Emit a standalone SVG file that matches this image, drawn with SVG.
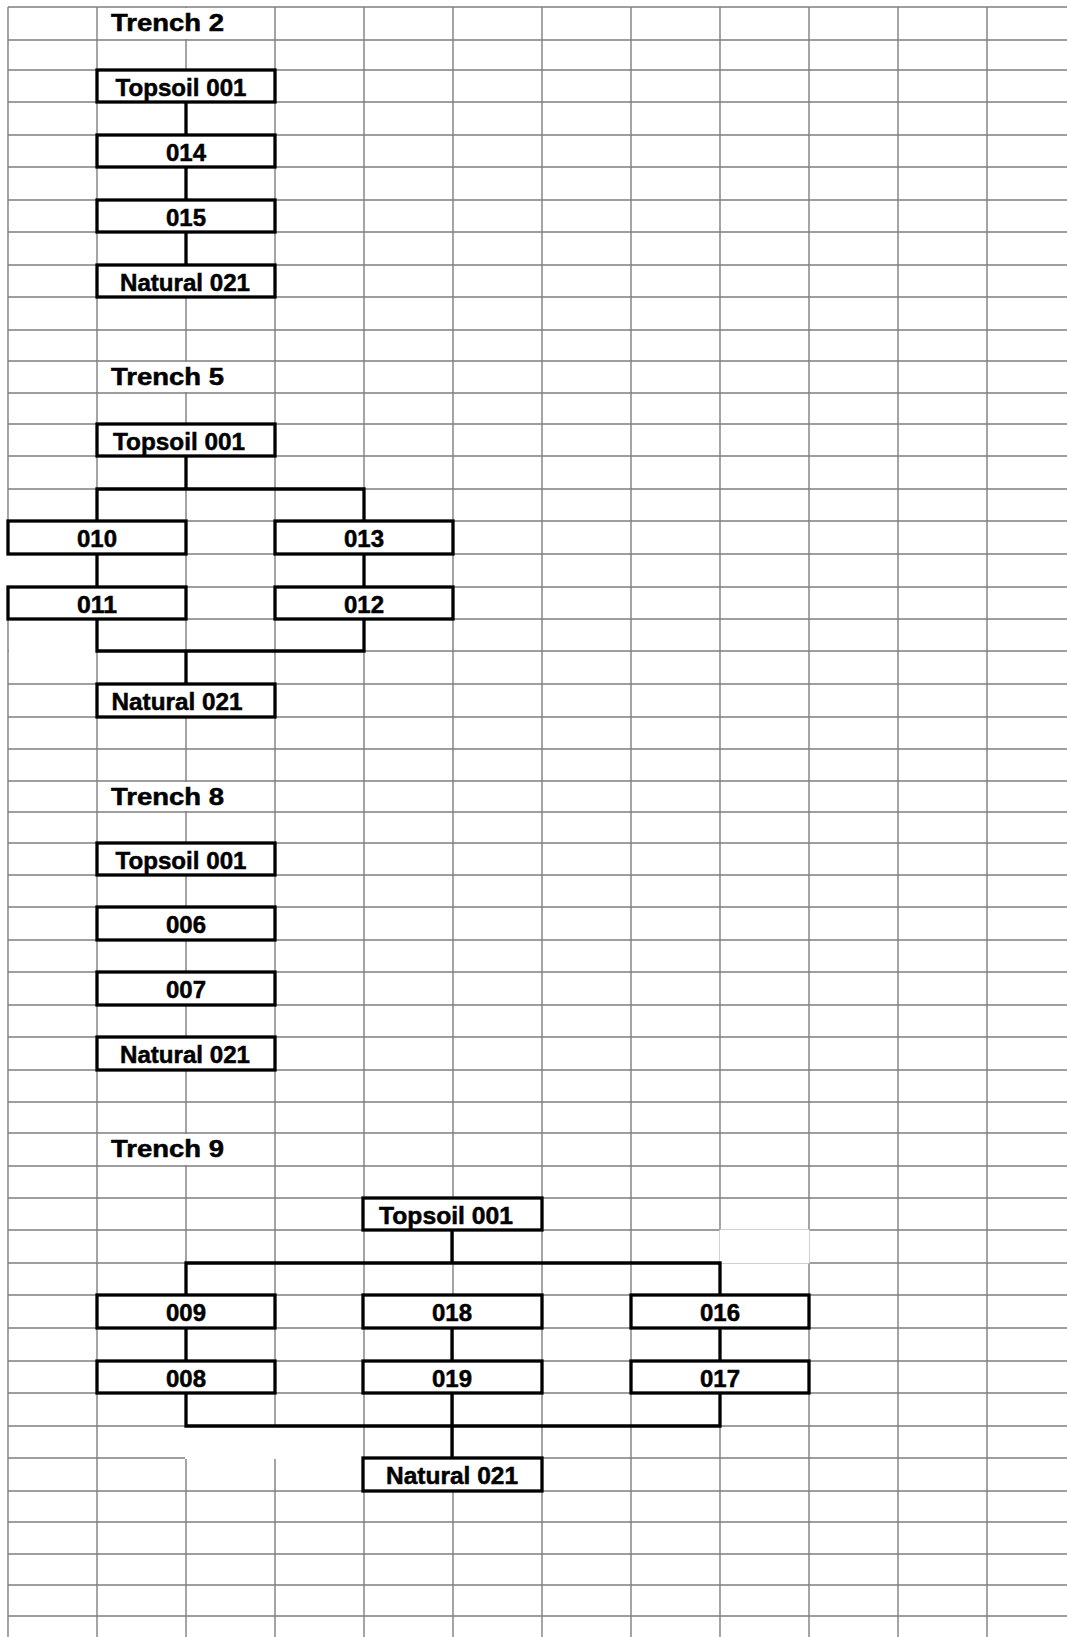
<svg xmlns="http://www.w3.org/2000/svg" width="1067" height="1637" viewBox="0 0 1067 1637">
<style>
.grid{stroke:#7f7f7f;stroke-width:1.4;fill:none}
.cover{fill:#ffffff;stroke:none}
.box{fill:#ffffff;stroke:#000000;stroke-width:3.3}
.con{fill:none;stroke:#000000;stroke-width:3.3}
.t{font-family:"Liberation Sans",Arial,sans-serif;font-weight:bold;fill:#000000;stroke:#000000;stroke-width:0.5}
.title{font-size:24px}
.lbl{font-size:24px;text-anchor:middle}
</style>
<rect x="0" y="0" width="1067" height="1637" fill="#ffffff"/>
<g id="grid">
<path class="grid" d="M8,7H1067M8,40H1067M8,70H1067M8,102H1067M8,135H1067M8,167H1067M8,200H1067M8,232H1067M8,265H1067M8,297H1067M8,330H1067M8,361H1067M8,393H1067M8,424H1067M8,456H1067M8,489H1067M8,521H1067M8,554H1067M8,587H1067M8,619H1067M8,651H1067M8,684H1067M8,717H1067M8,749H1067M8,781H1067M8,812H1067M8,843H1067M8,875H1067M8,907H1067M8,940H1067M8,972H1067M8,1005H1067M8,1037H1067M8,1070H1067M8,1102H1067M8,1133H1067M8,1166H1067M8,1198H1067M8,1230H1067M8,1263H1067M8,1295H1067M8,1328H1067M8,1361H1067M8,1393H1067M8,1426H1067M8,1458H1067M8,1491H1067M8,1522H1067M8,1554H1067M8,1585H1067M8,1616H1067"/>
<path class="grid" d="M8,7V1637M97,7V1637M186,7V1637M275,7V1637M364,7V1637M453,7V1637M542,7V1637M631,7V1637M720,7V1637M809,7V1637M898,7V1637M987,7V1637"/>
<rect class="cover" x="184" y="8" width="4" height="31"/>
<rect class="cover" x="184" y="362" width="4" height="30"/>
<rect class="cover" x="184" y="782" width="4" height="29"/>
<rect class="cover" x="184" y="1134" width="4" height="31"/>
<rect class="cover" x="6" y="555" width="4" height="31"/>
<rect class="cover" x="9" y="649" width="87" height="4"/>
<rect class="cover" x="719.5" y="1229.5" width="90" height="34"/>
<rect class="cover" x="185" y="1427" width="177" height="32"/>
</g>
<g id="titles">
<text class="t title" x="111" y="31" textLength="113" lengthAdjust="spacingAndGlyphs">Trench 2</text>
<text class="t title" x="111" y="385" textLength="113" lengthAdjust="spacingAndGlyphs">Trench 5</text>
<text class="t title" x="111" y="805" textLength="113" lengthAdjust="spacingAndGlyphs">Trench 8</text>
<text class="t title" x="111" y="1157" textLength="113" lengthAdjust="spacingAndGlyphs">Trench 9</text>
</g>
<g id="connectors">
<path class="con" d="M186,102V135M186,167V200M186,232V265"/>
<path class="con" d="M186,456V489M97,521V489H364V521M97,554V587M364,554V587M97,619V651H364V619M186,651V684"/>
<path class="con" d="M452,1230V1263M186,1295V1263H720V1295M186,1328V1361M452,1328V1361M720,1328V1361M186,1393V1426H720V1393M452,1393V1458"/>
</g>
<g id="t2-topsoil"><rect class="box" x="97" y="70" width="178" height="32"/><text class="t lbl" x="181" y="96" textLength="131" lengthAdjust="spacingAndGlyphs">Topsoil 001</text></g>
<g id="t2-014"><rect class="box" x="97" y="135" width="178" height="32"/><text class="t lbl" x="186" y="161" textLength="40" lengthAdjust="spacingAndGlyphs">014</text></g>
<g id="t2-015"><rect class="box" x="97" y="200" width="178" height="32"/><text class="t lbl" x="186" y="226" textLength="40" lengthAdjust="spacingAndGlyphs">015</text></g>
<g id="t2-natural"><rect class="box" x="97" y="265" width="178" height="32"/><text class="t lbl" x="185" y="291" textLength="130" lengthAdjust="spacingAndGlyphs">Natural 021</text></g>

<g id="t5-topsoil"><rect class="box" x="97" y="424" width="178" height="32"/><text class="t lbl" x="179" y="450" textLength="132" lengthAdjust="spacingAndGlyphs">Topsoil 001</text></g>
<g id="t5-010"><rect class="box" x="8" y="521" width="178" height="33"/><text class="t lbl" x="97" y="547" textLength="40" lengthAdjust="spacingAndGlyphs">010</text></g>
<g id="t5-013"><rect class="box" x="275" y="521" width="178" height="33"/><text class="t lbl" x="364" y="547" textLength="40" lengthAdjust="spacingAndGlyphs">013</text></g>
<g id="t5-011"><rect class="box" x="8" y="587" width="178" height="32"/><text class="t lbl" x="97" y="613" textLength="40" lengthAdjust="spacingAndGlyphs">011</text></g>
<g id="t5-012"><rect class="box" x="275" y="587" width="178" height="32"/><text class="t lbl" x="364" y="613" textLength="40" lengthAdjust="spacingAndGlyphs">012</text></g>
<g id="t5-natural"><rect class="box" x="97" y="684" width="178" height="33"/><text class="t lbl" x="177" y="710" textLength="131" lengthAdjust="spacingAndGlyphs">Natural 021</text></g>

<g id="t8-topsoil"><rect class="box" x="97" y="843" width="178" height="32"/><text class="t lbl" x="181" y="869" textLength="131" lengthAdjust="spacingAndGlyphs">Topsoil 001</text></g>
<g id="t8-006"><rect class="box" x="97" y="907" width="178" height="33"/><text class="t lbl" x="186" y="933" textLength="40" lengthAdjust="spacingAndGlyphs">006</text></g>
<g id="t8-007"><rect class="box" x="97" y="972" width="178" height="33"/><text class="t lbl" x="186" y="998" textLength="40" lengthAdjust="spacingAndGlyphs">007</text></g>
<g id="t8-natural"><rect class="box" x="97" y="1037" width="178" height="33"/><text class="t lbl" x="185" y="1063" textLength="130" lengthAdjust="spacingAndGlyphs">Natural 021</text></g>

<g id="t9-topsoil"><rect class="box" x="363" y="1198" width="179" height="32"/><text class="t lbl" x="446" y="1224" textLength="134" lengthAdjust="spacingAndGlyphs">Topsoil 001</text></g>
<g id="t9-009"><rect class="box" x="97" y="1295" width="178" height="33"/><text class="t lbl" x="186" y="1321" textLength="40" lengthAdjust="spacingAndGlyphs">009</text></g>
<g id="t9-018"><rect class="box" x="363" y="1295" width="179" height="33"/><text class="t lbl" x="452" y="1321" textLength="40" lengthAdjust="spacingAndGlyphs">018</text></g>
<g id="t9-016"><rect class="box" x="631" y="1295" width="178" height="33"/><text class="t lbl" x="720" y="1321" textLength="40" lengthAdjust="spacingAndGlyphs">016</text></g>
<g id="t9-008"><rect class="box" x="97" y="1361" width="178" height="32"/><text class="t lbl" x="186" y="1387" textLength="40" lengthAdjust="spacingAndGlyphs">008</text></g>
<g id="t9-019"><rect class="box" x="363" y="1361" width="179" height="32"/><text class="t lbl" x="452" y="1387" textLength="40" lengthAdjust="spacingAndGlyphs">019</text></g>
<g id="t9-017"><rect class="box" x="631" y="1361" width="178" height="32"/><text class="t lbl" x="720" y="1387" textLength="40" lengthAdjust="spacingAndGlyphs">017</text></g>
<g id="t9-natural"><rect class="box" x="363" y="1458" width="179" height="33"/><text class="t lbl" x="452" y="1484" textLength="132" lengthAdjust="spacingAndGlyphs">Natural 021</text></g>
</svg>
